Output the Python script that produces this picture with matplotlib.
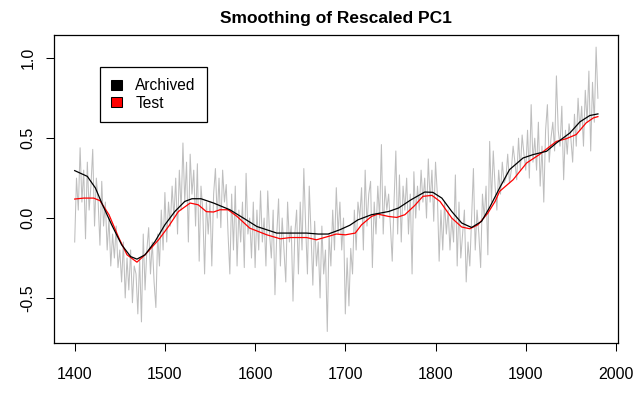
import matplotlib
matplotlib.use("Agg")
import matplotlib.pyplot as plt
from matplotlib.patches import Patch
import numpy as np

plt.rcParams['font.family'] = ['Liberation Sans', 'DejaVu Sans']

# ---- data ----
gray_start, gray_step = 1400, 2
gray_values = [
    -0.15, 0.25, 0.05, 0.44, 0.10,   # 1400s
    0.30, -0.13, 0.35, 0.05, 0.20,   # 1410s
    0.43, -0.05, 0.25, 0.10, -0.17,  # 1420s
    0.23, -0.05, 0.10, -0.20, 0.00,  # 1430s
    -0.30, -0.10, -0.25, -0.05, -0.31,  # 1440s
    -0.20, -0.40, -0.15, -0.50, -0.25,  # 1450s
    -0.45, -0.20, -0.53, -0.30, -0.35,  # 1460s
    -0.60, -0.25, -0.65, -0.10, -0.45,  # 1470s
    -0.20, -0.06, -0.35, -0.15, -0.40,  # 1480s
    -0.56, -0.10, -0.30, 0.05, -0.20,   # 1490s
    0.16, -0.15, 0.10, -0.05, 0.20,     # 1500s
    0.00, 0.25, -0.10, 0.30, 0.05,      # 1510s
    0.47, 0.10, 0.35, -0.15, 0.40,      # 1520s
    0.15, 0.30, -0.05, 0.34, -0.27,     # 1530s
    0.20, 0.05, -0.35, 0.10, -0.10,     # 1540s
    0.10, -0.30, 0.15, 0.31, 0.00,      # 1550s
    0.25, -0.06, 0.30, 0.10, 0.21,      # 1560s
    -0.10, -0.35, 0.15, -0.20, 0.20,    # 1570s
    -0.30, 0.05, -0.15, 0.10, -0.31,    # 1580s
    0.28, -0.10, 0.00, -0.25, 0.10,     # 1590s
    -0.31, 0.05, -0.20, 0.17, -0.15,    # 1600s
    0.00, -0.30, 0.17, -0.10, -0.25,    # 1610s
    0.05, -0.48, -0.10, 0.12, -0.30,    # 1620s
    0.00, -0.20, -0.40, 0.10, -0.15,    # 1630s
    -0.05, -0.52, -0.10, 0.05, -0.35,   # 1640s
    0.10, -0.20, 0.31, -0.05, -0.35,    # 1650s
    0.20, -0.10, -0.42, -0.02, -0.30,   # 1660s
    -0.15, -0.50, -0.05, -0.35, -0.20,  # 1670s
    -0.71, -0.10, -0.30, 0.05, -0.20,   # 1680s
    0.19, -0.10, 0.10, -0.20, 0.00,     # 1690s
    -0.60, -0.25, -0.55, -0.19, -0.35,  # 1700s
    0.05, -0.20, 0.10, 0.00, 0.19,      # 1710s
    -0.20, 0.30, -0.05, 0.15, 0.23,     # 1720s
    -0.31, 0.10, -0.10, 0.20, 0.00,     # 1730s
    0.46, -0.10, 0.20, 0.05, 0.15,      # 1740s
    -0.05, -0.27, 0.10, 0.42, -0.10,    # 1750s
    0.27, -0.15, 0.20, 0.05, 0.25,      # 1760s
    -0.10, 0.15, -0.35, 0.29, 0.00,     # 1770s
    0.20, 0.05, 0.30, 0.10, 0.25,       # 1780s
    0.00, 0.37, 0.10, 0.30, -0.02,      # 1790s
    0.35, 0.15, -0.27, 0.05, -0.20,     # 1800s
    0.10, -0.10, 0.05, -0.20, 0.00,     # 1810s
    -0.15, 0.27, -0.30, 0.10, -0.25,    # 1820s
    -0.10, 0.05, -0.40, -0.15, -0.30,   # 1830s
    0.00, 0.31, -0.20, 0.05, -0.10,     # 1840s
    -0.31, 0.15, 0.00, 0.20, -0.23,     # 1850s
    0.48, 0.10, 0.42, 0.20, 0.05,       # 1860s
    0.30, 0.15, 0.35, 0.22, 0.25,       # 1870s
    0.40, 0.22, 0.30, 0.45, 0.35,       # 1880s
    0.24, 0.50, 0.30, 0.52, 0.40,       # 1890s
    0.30, 0.55, 0.25, 0.71, 0.35,       # 1900s
    0.50, 0.30, 0.60, 0.20, 0.45,       # 1910s
    0.10, 0.55, 0.71, 0.35, 0.50,       # 1920s
    0.60, 0.42, 0.89, 0.55, 0.45,       # 1930s
    0.70, 0.24, 0.55, 0.40, 0.59,       # 1940s
    0.50, 0.35, 0.65, 0.45, 0.75,       # 1950s
    0.55, 0.70, 0.45, 0.80, 0.60,       # 1960s
    0.92, 0.42, 0.85, 0.60, 1.07,       # 1970s
    0.75,                               # 1980
]
gray_years = [gray_start + gray_step * i for i in range(len(gray_values))]

arch_years = [1400, 1414, 1423, 1430, 1441, 1452, 1462, 1469, 1478, 1489, 1500,
              1511, 1522, 1530, 1540, 1554, 1572, 1587, 1602, 1624, 1657, 1670,
              1681, 1694, 1705, 1714, 1729, 1748, 1759, 1773, 1788, 1797, 1807,
              1818, 1829, 1840, 1851, 1860, 1871, 1882, 1897, 1908, 1923, 1934,
              1949, 1960, 1971, 1980]
arch_values = [0.297, 0.261, 0.188, 0.094, -0.042, -0.167, -0.241, -0.257, -0.230,
               -0.147, -0.042, 0.041, 0.104, 0.121, 0.121, 0.094, 0.052, 0.000,
               -0.053, -0.094, -0.094, -0.100, -0.100, -0.073, -0.045, -0.011,
               0.021, 0.041, 0.063, 0.115, 0.163, 0.161, 0.125, 0.041, -0.031,
               -0.059, -0.021, 0.067, 0.188, 0.303, 0.376, 0.397, 0.418, 0.470,
               0.533, 0.602, 0.642, 0.652]

test_years = [1400, 1410, 1421, 1428, 1438, 1449, 1458, 1469, 1478, 1493, 1504,
              1515, 1528, 1537, 1546, 1554, 1561, 1570, 1580, 1594, 1613, 1628,
              1639, 1657, 1668, 1681, 1690, 1700, 1711, 1718, 1729, 1736, 1748,
              1757, 1766, 1777, 1786, 1796, 1805, 1818, 1829, 1838, 1847, 1858,
              1866, 1871, 1886, 1901, 1915, 1934, 1945, 1956, 1967, 1975, 1980]
test_values = [0.119, 0.125, 0.125, 0.109, 0.021, -0.125, -0.230, -0.276, -0.230,
               -0.136, -0.053, 0.041, 0.094, 0.083, 0.040, 0.038, 0.052, 0.052,
               0.010, -0.063, -0.105, -0.130, -0.122, -0.122, -0.136, -0.115,
               -0.100, -0.105, -0.094, -0.042, 0.010, 0.025, 0.010, 0.004, 0.021,
               0.079, 0.136, 0.142, 0.104, 0.000, -0.056, -0.067, -0.042, 0.031,
               0.104, 0.167, 0.240, 0.345, 0.397, 0.480, 0.497, 0.523, 0.596,
               0.627, 0.635]

title = "Smoothing of Rescaled PC1"
legend_labels = ["Archived", "Test"]
x_ticks = [1400, 1500, 1600, 1700, 1800, 1900, 2000]
y_ticks = [-0.5, 0.0, 0.5, 1.0]
y_ticklabels = ["-0.5", "0.0", "0.5", "1.0"]

# ---- figure ----
W, H = 636, 397
fig = plt.figure(figsize=(W / 100, H / 100), dpi=100)
L, R, T, B = 54.3, 618.3, 35.0, 343.3
ax = fig.add_axes([L / W, 1 - B / H, (R - L) / W, (B - T) / H])

ax.plot(gray_years, gray_values, color="#BEBEBE", lw=0.75, zorder=1)
ax.plot(arch_years, arch_values, color="black", lw=0.9, zorder=3)
ax.plot(test_years, test_values, color="red", lw=0.9, zorder=2)

ax.set_xlim(1377.4, 2002.6)
ax.set_ylim(-0.784, 1.146)

ax.set_xticks(x_ticks)
ax.set_xticklabels([str(t) for t in x_ticks])
ax.set_yticks(y_ticks)
ax.set_yticklabels(y_ticklabels, rotation=90, va="center")
ax.tick_params(axis="both", direction="out", length=6.1, width=0.75,
               labelsize=11.5, color="black")
ax.tick_params(axis="x", pad=11)
ax.tick_params(axis="y", pad=7.5)
for s in ax.spines.values():
    s.set_linewidth(0.9)
    s.set_color("black")

ax.set_title(title, fontsize=12.5, fontweight="bold", pad=8.5)

handles = [Patch(facecolor="black", edgecolor="black", linewidth=0.75),
           Patch(facecolor="red", edgecolor="black", linewidth=0.75)]
leg = ax.legend(handles, legend_labels, loc="upper left",
                bbox_to_anchor=((100 - L) / (R - L), (B - 67.3) / (B - T)),
                borderaxespad=0, fontsize=11.2, frameon=True, fancybox=False,
                framealpha=1, edgecolor="black", handlelength=0.72,
                handleheight=0.62, handletextpad=0.85, labelspacing=0.16,
                borderpad=0.7)
leg.get_frame().set_linewidth(0.9)

fig.savefig("out.png", dpi=100)
